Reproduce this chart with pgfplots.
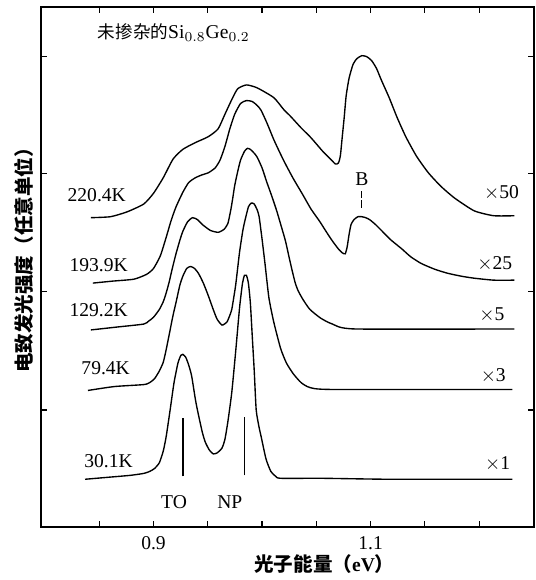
\documentclass[border=0pt]{standalone}
\usepackage{fontspec}
\setmainfont{Liberation Serif}
\newfontfamily\cjk{Noto Sans CJK SC}
\usepackage{pgfplots}
\pgfplotsset{compat=1.18}

% x: photon energy (eV); y: EL intensity, arbitrary units (curves offset)
\pgfplotsset{spec/.style={black,line width=0.7pt,smooth,tension=0.35,mark=none}}

\begin{document}
\begin{tikzpicture}
\begin{axis}[
width=252pt,height=266pt,scale only axis,
xmin=0.7964,xmax=1.2505,
ymin=0,ymax=533,
xtick={0.85,0.90,0.95,1.00,1.05,1.10,1.15,1.20},
xticklabels={,0.9,,,,1.1,,},
ytick={120,241,362,482},
yticklabels={},
tick align=inside,
major tick length=3pt,
tick style={black,line width=0.6pt},
axis line style={line width=0.8pt},
tick label style={font=\fontsize{10}{12}\selectfont},
xticklabel style={yshift=-1.5pt},
/pgf/number format/assume math mode=true,
xlabel={{\cjk\bfseries 光子能量（}\textbf{eV}{\cjk\bfseries ）}},
xlabel style={at={(axis description cs:0.575,-0.071)},anchor=center},
ylabel={\cjk\bfseries 电致发光强度（任意单位）},
ylabel style={at={(axis description cs:-0.034,0.522)},anchor=center},
]
% 30.1 K  x1
\addplot[spec] coordinates {
(0.8369,49)(0.8577,51)(0.8784,53)(0.8910,55)(0.8964,57)(0.9009,60)(0.9054,66)
(0.9090,78)(0.9117,93)(0.9153,120)(0.9189,148)(0.9225,168)(0.9252,176)(0.9270,177)
(0.9297,174)(0.9324,166)(0.9351,155)(0.9387,130)(0.9414,115)(0.9450,97)(0.9477,87)
(0.9514,79)(0.9550,75)(0.9586,76)(0.9631,81)(0.9658,90)(0.9685,108)(0.9721,138)
(0.9757,180)(0.9793,225)(0.9820,250)(0.9838,258)(0.9856,258)(0.9874,250)(0.9892,230)
(0.9910,195)(0.9928,160)(0.9946,120)(0.9973,102)(0.9991,93)(1.0036,70)(1.0081,57)
(1.0126,52)(1.0171,50)(1.0559,50)(1.1189,49)(1.2306,49)
};
% 79.4 K  x3
\addplot[spec] coordinates {
(0.8396,140)(0.8640,144)(0.8910,146)(0.8964,148)(0.9009,152)(0.9054,160)(0.9090,169)
(0.9117,182)(0.9144,197)(0.9180,217)(0.9207,230)(0.9243,248)(0.9270,257)(0.9306,265)
(0.9342,267)(0.9378,265)(0.9414,260)(0.9459,250)(0.9505,237)(0.9550,223)(0.9586,213)
(0.9631,207)(0.9676,210)(0.9703,217)(0.9721,223)(0.9739,235)(0.9757,248)(0.9775,265)
(0.9793,282)(0.9820,302)(0.9838,312)(0.9874,328)(0.9901,332)(0.9928,331)(0.9955,325)
(0.9973,318)(1.0000,295)(1.0027,270)(1.0063,235)(1.0108,210)(1.0171,183)(1.0225,168)
(1.0288,157)(1.0360,148)(1.0441,143)(1.0649,141)(1.2306,141)
};
% 129.2 K  x5
\addplot[spec] coordinates {
(0.8423,202)(0.8667,205)(0.8910,208)(0.8955,211)(0.9000,215)(0.9054,223)(0.9090,231)
(0.9117,240)(0.9144,251)(0.9171,264)(0.9207,280)(0.9243,294)(0.9270,303)(0.9315,313)
(0.9360,317)(0.9405,315)(0.9450,310)(0.9523,304)(0.9595,302)(0.9649,305)(0.9685,311)
(0.9712,325)(0.9730,337)(0.9748,350)(0.9775,364)(0.9802,376)(0.9838,385)(0.9865,388)
(0.9892,387)(0.9928,383)(0.9955,379)(1.0000,368)(1.0045,353)(1.0090,339)(1.0135,324)
(1.0180,307)(1.0216,293)(1.0252,275)(1.0279,262)(1.0306,250)(1.0333,242)(1.0378,233)
(1.0441,223)(1.0541,214)(1.0649,208)(1.0856,203)(1.2324,203)
};
% 193.9 K  x25
\addplot[spec] coordinates {
(0.8441,250)(0.8622,252)(0.8820,254)(0.8937,259)(0.9000,265)(0.9063,278)(0.9117,297)
(0.9162,314)(0.9207,328)(0.9270,343)(0.9324,353)(0.9387,358)(0.9450,361)(0.9505,363)
(0.9568,368)(0.9613,376)(0.9658,390)(0.9703,408)(0.9748,423)(0.9802,434)(0.9856,437)
(0.9910,436)(0.9955,432)(0.9991,427)(1.0045,414)(1.0108,397)(1.0171,382)(1.0225,370)
(1.0288,357)(1.0378,340)(1.0450,326)(1.0532,313)(1.0595,302)(1.0649,293)(1.0703,285)
(1.0739,281)(1.0766,280)(1.0784,287)(1.0802,300)(1.0820,310)(1.0847,315)(1.0883,318)
(1.0919,318)(1.0955,317)(1.0991,315)(1.1045,310)(1.1108,303)(1.1189,294)(1.1288,285)
(1.1369,277)(1.1468,270)(1.1595,264)(1.1712,260)(1.1838,257)(1.1955,255)(1.2135,253)
(1.2324,253)
};
% 220.4 K  x50
\addplot[spec] coordinates {
(0.8423,317)(0.8604,318)(0.8757,323)(0.8910,331)(0.9000,342)(0.9090,358)(0.9180,377)
(0.9270,387)(0.9387,394)(0.9505,400)(0.9595,408)(0.9658,423)(0.9721,438)(0.9775,449)
(0.9856,453)(0.9955,450)(1.0108,440)(1.0198,428)(1.0261,421)(1.0360,409)(1.0450,399)
(1.0559,385)(1.0622,378)(1.0676,372)(1.0703,373)(1.0721,380)(1.0739,400)(1.0757,420)
(1.0775,442)(1.0802,460)(1.0838,474)(1.0874,480)(1.0919,483)(1.0964,482)(1.1009,478)
(1.1054,470)(1.1099,458)(1.1171,440)(1.1243,420)(1.1324,400)(1.1423,380)(1.1532,363)
(1.1649,349)(1.1775,337)(1.1955,324)(1.2135,319)(1.2324,319)
};
% TO and NP markers, B marker
\addplot[black,line width=0.7pt] coordinates {(0.9270,52)(0.9270,112)};
\addplot[black,line width=0.7pt] coordinates {(0.9838,53)(0.9838,113)};
\addplot[black,line width=0.6pt,dash pattern=on 4pt off 1pt] coordinates {(1.0919,327)(1.0919,344)};

\begin{scope}[font=\fontsize{10}{12}\selectfont]
\node[anchor=west] at (0.8423,507) {{\cjk\fontsize{9}{11}\selectfont 未掺杂的}Si$_{0.8}$Ge$_{0.2}$};
\node at (0.8477,340) {220.4K};
\node at (0.8495,268) {193.9K};
\node at (0.8495,222) {129.2K};
\node at (0.8559,163) {79.4K};
\node at (0.8586,68) {30.1K};
\node at (1.2207,342) {$\times$50};
\node at (1.2144,270) {$\times$25};
\node at (1.2117,217) {$\times$5};
\node at (1.2130,155) {$\times$3};
\node at (1.2171,65) {$\times$1};
\node at (1.0919,357) {B};
\node at (0.9189,26) {TO};
\node at (0.9703,26) {NP};
\end{scope}
\end{axis}
\path ([xshift=-21pt,yshift=-21pt]current axis.south west)
  rectangle ([xshift=1pt,yshift=3.5pt]current axis.north east);
\end{tikzpicture}
\end{document}
